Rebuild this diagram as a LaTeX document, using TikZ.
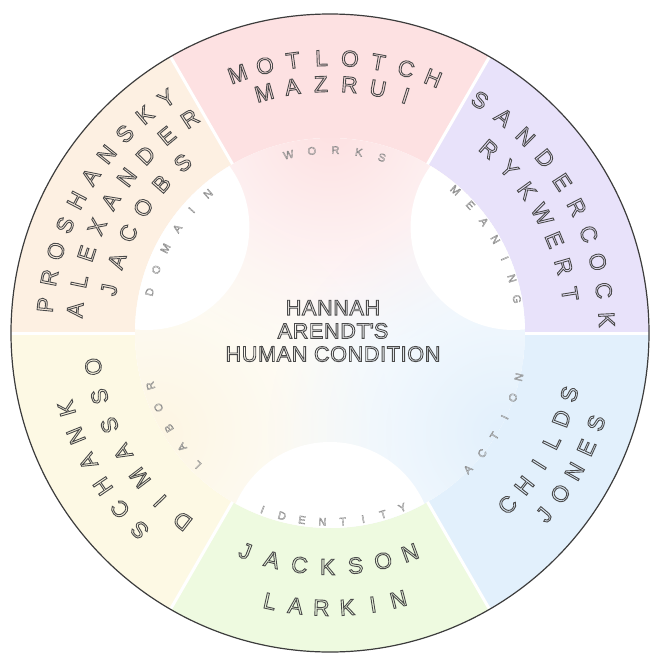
\documentclass[tikz,border=0pt]{standalone}
\usepackage{fontspec}
\setmainfont{Liberation Sans}
\usetikzlibrary{fadings}

\definecolor{workspink}{HTML}{FDE1E2}
\definecolor{meaninglilac}{HTML}{E8E2FA}
\definecolor{domainpeach}{HTML}{FDF0E2}
\definecolor{laboryellow}{HTML}{FDF9E4}
\definecolor{identitygreen}{HTML}{EEFAE0}
\definecolor{actionblue}{HTML}{E2F0FC}
\definecolor{inkgray}{HTML}{4A4A4A}
\definecolor{tagink}{HTML}{8A8A8A}
\definecolor{rimgray}{HTML}{3C3C3C}

\tikzfading[name=softblob, inner color=transparent!0, outer color=transparent!100]

\newcommand{\hollow}[2][0.45]{\special{pdf:literal direct 1 Tr #1 w}#2\special{pdf:literal direct 0 Tr}}

\newcommand{\arcword}[8]{%
  \foreach \ch [count=\i] in {#8} {
    \pgfmathsetmacro{\wang}{#5+(\i-(#7+1)/2)*#6}
    \pgfmathsetmacro{\wrot}{\wang+90*sign(#6)}
    \node[#2, rotate=\wrot] (#1-\i) at (\wang:#4) {\hollow[#3]{\ch}};
  }%
}

\begin{document}
\begin{tikzpicture}[
        x=0.5pt, y=0.5pt,
        namechar/.style={font=\fontsize{11.3}{13}\selectfont, text=inkgray, inner sep=0pt},
        tagchar/.style={font=\fontsize{5.5}{6}\selectfont, text=tagink, inner sep=0pt},
        title/.style={align=center, font=\fontsize{10.8}{11.6}\selectfont\addfontfeature{LetterSpace=3}, text=inkgray},
        divider/.style={white, line width=1.5pt},
        rim/.style={draw=rimgray, line width=0.6pt}
    ]
    \useasboundingbox (-330,-322) rectangle (320,333);

    \foreach \a/\col in {0/meaninglilac, 60/workspink, 120/domainpeach, 180/laboryellow, 240/identitygreen, 300/actionblue} {
        \fill[\col] (\a:195) arc[start angle=\a, end angle=\a+60, radius=195]
            -- (\a+60:319) arc[start angle=\a+60, end angle=\a, radius=319] -- cycle;
    }

    \begin{scope}
        \clip (0,0) circle (195);
        \fill[white] (0,0) circle (195);
        \fill[workspink, path fading=softblob] (90:205) circle (225);
        \fill[laboryellow!70!domainpeach, path fading=softblob] (210:200) circle (235);
        \fill[actionblue, path fading=softblob] (330:200) circle (235);
        \fill[white] (150:212) circle (103);
        \fill[white] (30:212) circle (103);
        \fill[white] (270:212) circle (103);
    \end{scope}

    \foreach \a in {0,60,...,300} {
        \draw[divider] (\a:195) -- (\a:321);
    }
    \draw[rim] (0,0) circle (319);

    \node[title] (title) at (3,2) {\hollow{HANNAH}\\\hollow{ARENDT\textquotesingle S}\\\hollow{HUMAN CONDITION}};

    \arcword{motlotch}{namechar}{0.45}{275}{88.8}{-5.95}{8}{M,O,T,L,O,T,C,H}
    \arcword{mazrui}{namechar}{0.45}{249}{88.8}{-6.6}{6}{M,A,Z,R,U,I}
    \arcword{works}{tagchar}{0.2}{183}{88.3}{-7.4}{5}{W,O,R,K,S}

    \arcword{proshansky}{namechar}{0.45}{286}{149.6}{-5.5}{10}{P,R,O,S,H,A,N,S,K,Y}
    \arcword{alexander}{namechar}{0.45}{256}{149}{-6.46}{9}{A,L,E,X,A,N,D,E,R}
    \arcword{jacobs}{namechar}{0.45}{225}{149.9}{-7.6}{6}{J,A,C,O,B,S}
    \arcword{domain}{tagchar}{0.2}{185}{149.2}{-7.2}{6}{D,O,M,A,I,N}

    \arcword{sandercock}{namechar}{0.45}{277}{30}{-6.05}{10}{S,A,N,D,E,R,C,O,C,K}
    \arcword{rykwert}{namechar}{0.45}{243}{29.2}{-6.65}{7}{R,Y,K,W,E,R,T}
    \arcword{meaning}{tagchar}{0.2}{190}{29.5}{-6.4}{7}{M,E,A,N,I,N,G}

    \arcword{schank}{namechar}{0.45}{274}{211}{-6}{6}{S,C,H,A,N,K}
    \arcword{dimasso}{namechar}{0.45}{239}{210}{-7.3}{7}{D,I,M,A,S,S,O}
    \arcword{labor}{tagchar}{0.2}{187}{210.6}{-7.1}{5}{L,A,B,O,R}

    \arcword{jackson}{namechar}{0.45}{234}{269.4}{6.87}{7}{J,A,C,K,S,O,N}
    \arcword{larkin}{namechar}{0.45}{275}{270.9}{5.4}{6}{L,A,R,K,I,N}
    \arcword{identity}{tagchar}{0.2}{189}{270.8}{6.2}{8}{I,D,E,N,T,I,T,Y}

    \arcword{childs}{namechar}{0.45}{247}{-29.2}{5.95}{6}{C,H,I,L,D,S}
    \arcword{jones}{namechar}{0.45}{281}{-29.5}{5.4}{5}{J,O,N,E,S}
    \arcword{action}{tagchar}{0.2}{194}{-28.9}{6.3}{6}{A,C,T,I,O,N}
\end{tikzpicture}
\end{document}
